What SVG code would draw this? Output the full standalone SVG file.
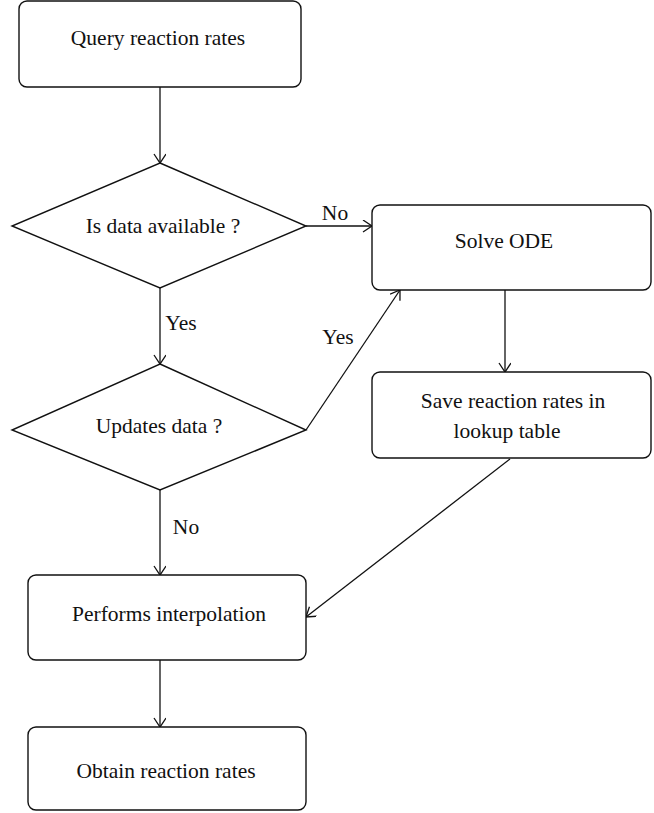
<svg xmlns="http://www.w3.org/2000/svg" width="654" height="813" viewBox="0 0 654 813">
<style>
.box{fill:#fff;stroke:#111;stroke-width:1.4}
.t{font-family:"Liberation Serif","Times New Roman",serif;font-size:21.5px;fill:#111;text-anchor:middle}
.c{fill:none;stroke:#111;stroke-width:1.3}
</style>
<defs>
<marker id="a" markerUnits="userSpaceOnUse" markerWidth="14" markerHeight="14" refX="10" refY="6" orient="auto">
<path d="M1,0 L10,6 L1,12" fill="none" stroke="#111" stroke-width="1.3"/>
</marker>
</defs>
<rect width="654" height="813" fill="#fff"/>
<g id="connectors">
<line class="c" x1="160" y1="87" x2="160" y2="163" marker-end="url(#a)"/>
<line class="c" x1="306" y1="226" x2="372" y2="226" marker-end="url(#a)"/>
<line class="c" x1="160" y1="288" x2="160" y2="364" marker-end="url(#a)"/>
<line class="c" x1="306" y1="430" x2="400" y2="290" marker-end="url(#a)"/>
<line class="c" x1="505" y1="290" x2="505" y2="372" marker-end="url(#a)"/>
<line class="c" x1="160" y1="490" x2="160" y2="575" marker-end="url(#a)"/>
<line class="c" x1="510" y1="459" x2="306" y2="617" marker-end="url(#a)"/>
<line class="c" x1="160" y1="660" x2="160" y2="727" marker-end="url(#a)"/>
<text class="t" x="335" y="220">No</text>
<text class="t" x="181" y="330">Yes</text>
<text class="t" x="338" y="344">Yes</text>
<text class="t" x="186" y="534">No</text>
</g>
<g id="query">
<rect class="box" x="19" y="1" width="282" height="86" rx="8"/>
<text class="t" x="158" y="45">Query reaction rates</text>
</g>
<g id="available">
<polygon class="box" points="160,163 306,226 160,288 12,226"/>
<text class="t" x="163" y="233">Is data available ?</text>
</g>
<g id="solve">
<rect class="box" x="372" y="205" width="279" height="85" rx="8"/>
<text class="t" x="504" y="248">Solve ODE</text>
</g>
<g id="save">
<rect class="box" x="372" y="372" width="279" height="86" rx="8"/>
<text class="t" x="513" y="408">Save reaction rates in</text>
<text class="t" x="507" y="438">lookup table</text>
</g>
<g id="updates">
<polygon class="box" points="160,364 306,430 160,490 12,430"/>
<text class="t" x="159" y="433">Updates data ?</text>
</g>
<g id="interp">
<rect class="box" x="28" y="575" width="278" height="85" rx="8"/>
<text class="t" x="169" y="621">Performs interpolation</text>
</g>
<g id="obtain">
<rect class="box" x="28" y="727" width="278" height="83" rx="8"/>
<text class="t" x="166" y="778">Obtain reaction rates</text>
</g>
</svg>
